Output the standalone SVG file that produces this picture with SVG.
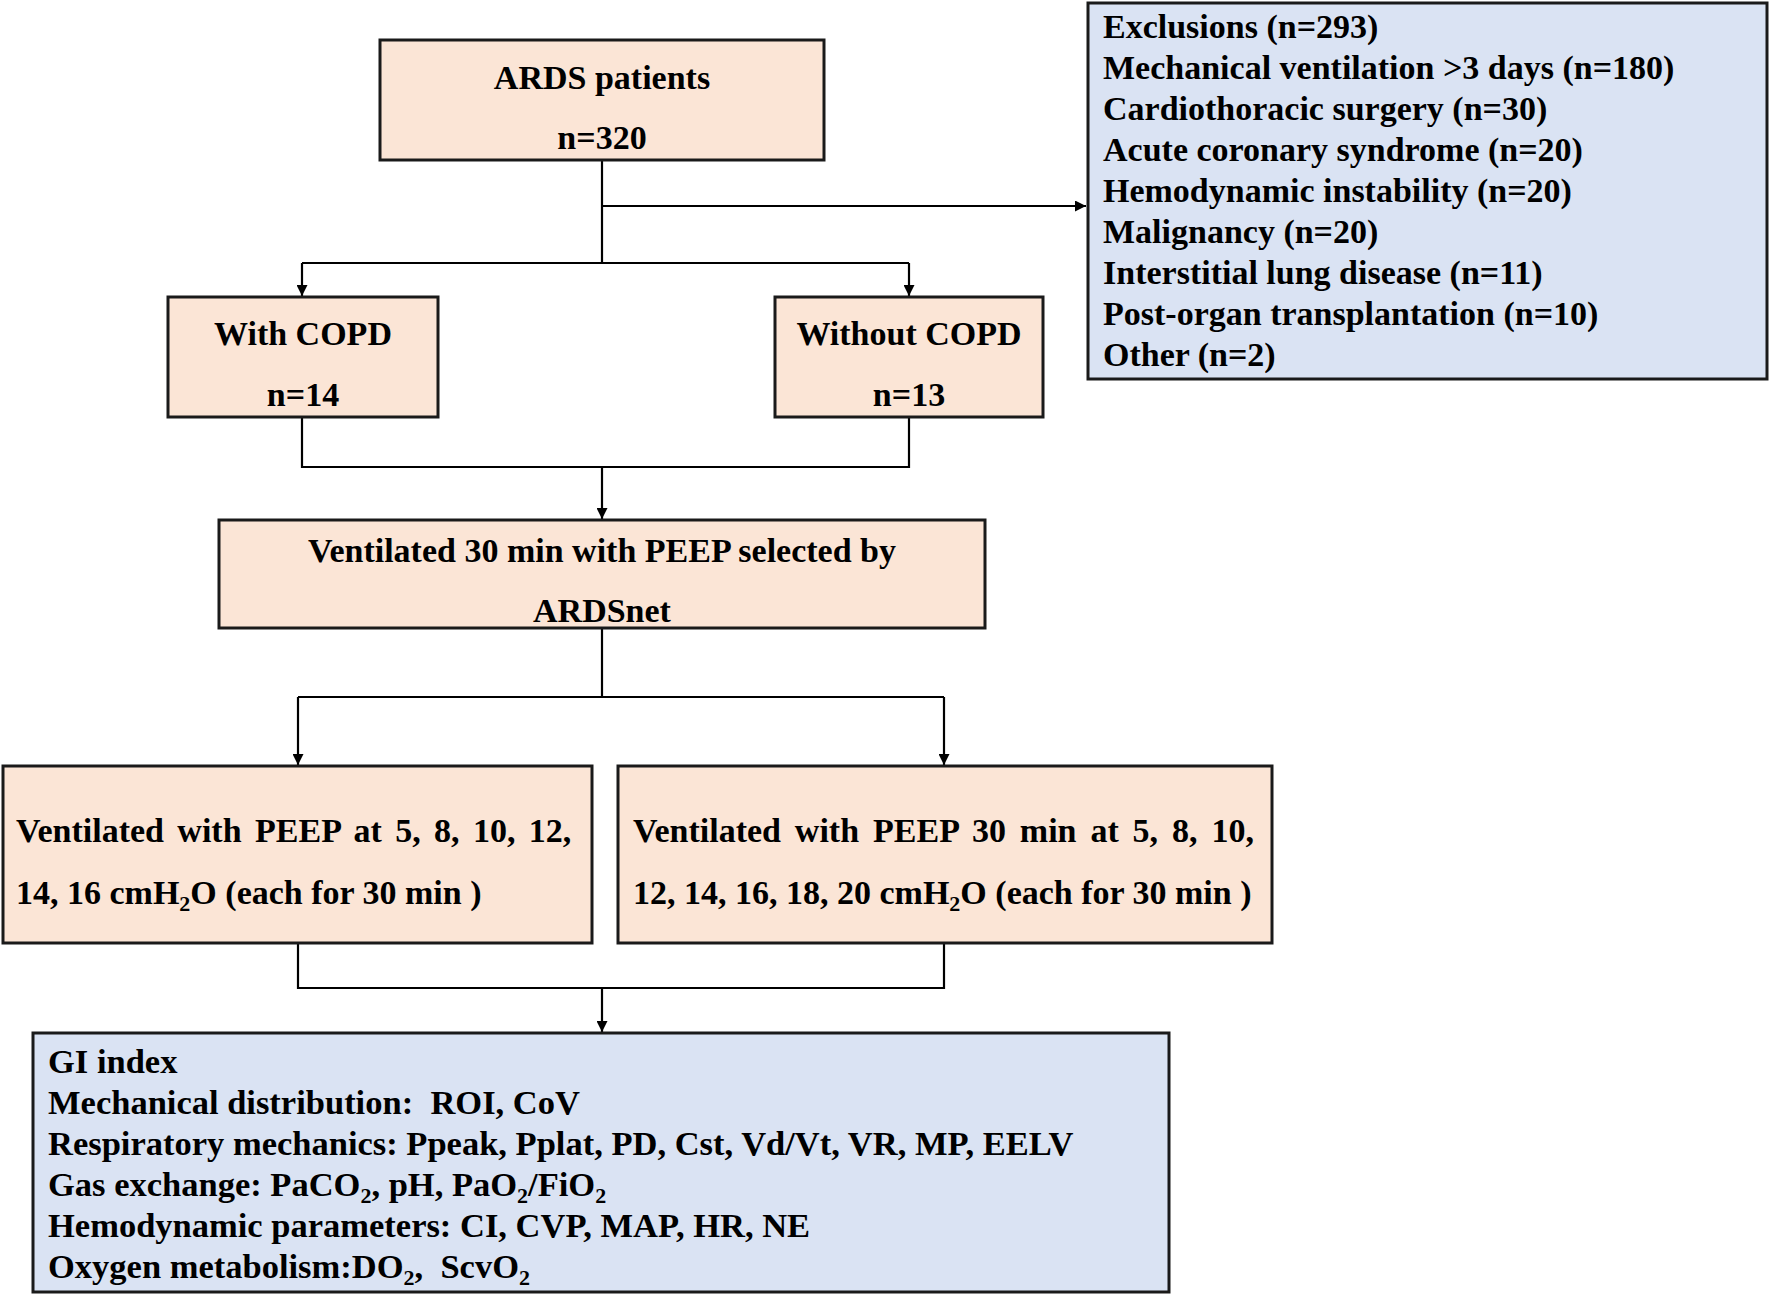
<svg xmlns="http://www.w3.org/2000/svg" width="1770" height="1295" viewBox="0 0 1770 1295">
<style>
.box{stroke:#1a1a1a;stroke-width:3}
.peach{fill:#FBE5D6}
.blue{fill:#DAE3F3}
text{font-family:"Liberation Serif","Times New Roman",serif;font-weight:bold;font-size:34px;fill:#000}
.c{text-anchor:middle}
.sub{font-size:22px}
.gi text{font-size:34.5px}
.gi .sub{font-size:22px}
.conn{fill:none;stroke:#000;stroke-width:2.2}
</style>
<defs>
<marker id="arr" viewBox="0 0 10 10" refX="10" refY="5" markerWidth="11" markerHeight="11" markerUnits="userSpaceOnUse" orient="auto">
<path d="M0,0 L10,5 L0,10 Z" fill="#000"/>
</marker>
</defs>
<rect width="1770" height="1295" fill="#fff"/>

<g id="connectors">
<path class="conn" d="M602,160 V263"/>
<path class="conn" d="M602,206 H1086" marker-end="url(#arr)"/>
<path class="conn" d="M302,263 H909"/>
<path class="conn" d="M302,263 V296" marker-end="url(#arr)"/>
<path class="conn" d="M909,263 V296" marker-end="url(#arr)"/>
<path class="conn" d="M302,417 V467 H909 V417"/>
<path class="conn" d="M602,467 V519" marker-end="url(#arr)"/>
<path class="conn" d="M602,628 V697"/>
<path class="conn" d="M298,697 H944"/>
<path class="conn" d="M298,697 V765" marker-end="url(#arr)"/>
<path class="conn" d="M944,697 V765" marker-end="url(#arr)"/>
<path class="conn" d="M298,943 V988 H944 V943"/>
<path class="conn" d="M602,988 V1032" marker-end="url(#arr)"/>
</g>

<g id="ards">
<rect class="box peach" x="380" y="40" width="444" height="120"/>
<text class="c" x="602" y="89">ARDS patients</text>
<text class="c" x="602" y="149">n=320</text>
</g>

<g id="exclusions">
<rect class="box blue" x="1088" y="3" width="679" height="376"/>
<text x="1103" y="38">Exclusions (n=293)</text>
<text x="1103" y="79">Mechanical ventilation &gt;3 days (n=180)</text>
<text x="1103" y="120">Cardiothoracic surgery (n=30)</text>
<text x="1103" y="161">Acute coronary syndrome (n=20)</text>
<text x="1103" y="202">Hemodynamic instability (n=20)</text>
<text x="1103" y="243">Malignancy (n=20)</text>
<text x="1103" y="284">Interstitial lung disease (n=11)</text>
<text x="1103" y="325">Post-organ transplantation (n=10)</text>
<text x="1103" y="366">Other (n=2)</text>
</g>

<g id="with-copd">
<rect class="box peach" x="168" y="297" width="270" height="120"/>
<text class="c" x="303" y="345">With COPD</text>
<text class="c" x="303" y="406">n=14</text>
</g>

<g id="without-copd">
<rect class="box peach" x="775" y="297" width="268" height="120"/>
<text class="c" x="909" y="345">Without COPD</text>
<text class="c" x="909" y="406">n=13</text>
</g>

<g id="ventilated-ardsnet">
<rect class="box peach" x="219" y="520" width="766" height="108"/>
<text class="c" x="602" y="562">Ventilated 30 min with PEEP selected by</text>
<text class="c" x="602" y="622">ARDSnet</text>
</g>

<g id="peep-copd">
<rect class="box peach" x="3" y="766" width="589" height="177"/>
<text x="16" y="842" word-spacing="4.9">Ventilated with PEEP at 5, 8, 10, 12,</text>
<text x="16" y="904">14, 16 cmH<tspan class="sub" dy="7">2</tspan><tspan dy="-7">O (each for 30 min )</tspan></text>
</g>

<g id="peep-noncopd">
<rect class="box peach" x="618" y="766" width="654" height="177"/>
<text x="633" y="842" word-spacing="5.4">Ventilated with PEEP 30 min at 5, 8, 10,</text>
<text x="633" y="904">12, 14, 16, 18, 20 cmH<tspan class="sub" dy="7">2</tspan><tspan dy="-7">O (each for 30 min )</tspan></text>
</g>

<g id="outcomes" class="gi">
<rect class="box blue" x="33" y="1033" width="1136" height="259"/>
<text x="48" y="1073">GI index</text>
<text x="48" y="1114" xml:space="preserve">Mechanical distribution:  ROI, CoV</text>
<text x="48" y="1155">Respiratory mechanics: Ppeak, Pplat, PD, Cst, Vd/Vt, VR, MP, EELV</text>
<text x="48" y="1196">Gas exchange: PaCO<tspan class="sub" dy="7">2</tspan><tspan dy="-7">, pH, PaO</tspan><tspan class="sub" dy="7">2</tspan><tspan dy="-7">/FiO</tspan><tspan class="sub" dy="7">2</tspan></text>
<text x="48" y="1237">Hemodynamic parameters: CI, CVP, MAP, HR, NE</text>
<text x="48" y="1278" xml:space="preserve">Oxygen metabolism:DO<tspan class="sub" dy="7">2</tspan><tspan dy="-7">,  ScvO</tspan><tspan class="sub" dy="7">2</tspan></text>
</g>
</svg>
